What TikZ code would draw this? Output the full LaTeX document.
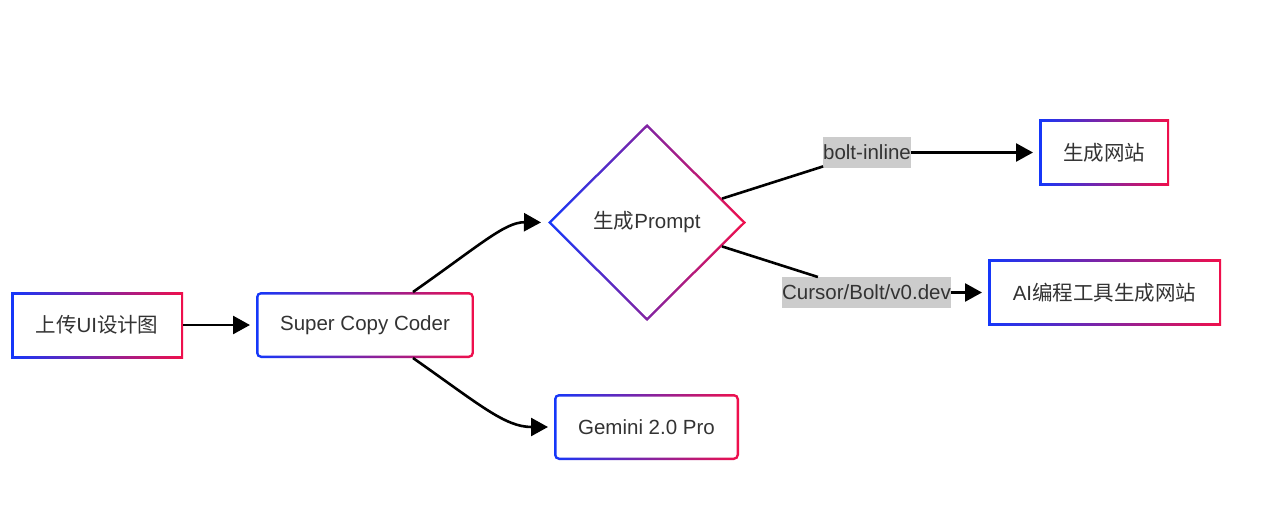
\documentclass[tikz,border=0pt]{standalone}
\usepackage{fontspec}
\setmainfont{Liberation Sans}
\newfontfamily\cjk{Noto Sans CJK SC}
\usetikzlibrary{arrows.meta,shapes.geometric,calc}
\definecolor{gblue}{RGB}{20,55,250}
\definecolor{gred}{RGB}{240,15,75}
\definecolor{txt}{RGB}{51,51,51}
\definecolor{lblbg}{RGB}{204,204,204}
\tikzset{
  base/.style={font=\fontsize{20.5pt}{24pt}\selectfont, text=txt, inner sep=0pt, outer sep=0pt},
  gbox/.style={base, rectangle, minimum height=66pt, fill=white, path picture={
    \shade[left color=gblue, right color=gred] (path picture bounding box.south west) rectangle (path picture bounding box.north east);
    \fill[white,#1] ([shift={(2.5pt,2.5pt)}]path picture bounding box.south west) rectangle ([shift={(-2.5pt,-2.5pt)}]path picture bounding box.north east);
  }},
  gbox/.default={sharp corners},
  rbox/.style={gbox={rounded corners=3pt}, rounded corners=5pt},
  dia/.style={base, diamond, minimum width=198pt, minimum height=197pt, fill=white, path picture={
    \shade[left color=gblue, right color=gred] (path picture bounding box.south west) rectangle (path picture bounding box.north east);
    \fill[white] ([xshift=3.5pt]path picture bounding box.west) -- ([yshift=-3.5pt]path picture bounding box.north) -- ([xshift=-3.5pt]path picture bounding box.east) -- ([yshift=3.5pt]path picture bounding box.south) -- cycle;
  }},
  lbl/.style={base, fill=lblbg, minimum height=31pt},
  conn/.style={line width=2.6pt, draw=black},
  arr/.style={conn, -{Triangle[length=17pt,width=18pt]}, shorten >=6pt}
}
\begin{document}
\begin{tikzpicture}[x=1pt,y=-1pt]
\useasboundingbox[fill=white] (0,0) rectangle (1262,530);
\node[gbox, minimum width=172pt] (up) at (97,325) {{\cjk 上传}UI{\cjk 设计图}};
\node[rbox, minimum width=218pt] (scc) at (365,325) {Super Copy Coder};
\node[dia] (prompt) at (647,222.5) {{\cjk 生成}Prompt};
\node[gbox, minimum width=130pt] (web) at (1104,152.5) {\cjk 生成网站};
\node[gbox, minimum width=233pt] (ai) at (1104.5,292.5) {AI{\cjk 编程工具生成网站}};
\node[rbox, minimum width=185pt] (gem) at (646.5,427) {Gemini 2.0 Pro};
\node[lbl] (lbl1) at (867,152.5) {bolt-inline};
\node[lbl] (lbl2) at (866.5,292.5) {Cursor/Bolt/v0.dev};
\draw[arr] (up) -- (scc);
\draw[arr, shorten >=7pt] ([xshift=48pt]scc.north) .. controls (480,245) and (505,222) .. (prompt.west);
\draw[arr] ([xshift=48pt]scc.south) .. controls (480,405) and (505,427) .. (gem.west);
\draw[conn] (prompt) -- (lbl1);
\draw[arr] (lbl1) -- (web);
\draw[conn] (prompt) -- (lbl2);
\draw[arr] (lbl2) -- (ai);
\end{tikzpicture}
\end{document}
